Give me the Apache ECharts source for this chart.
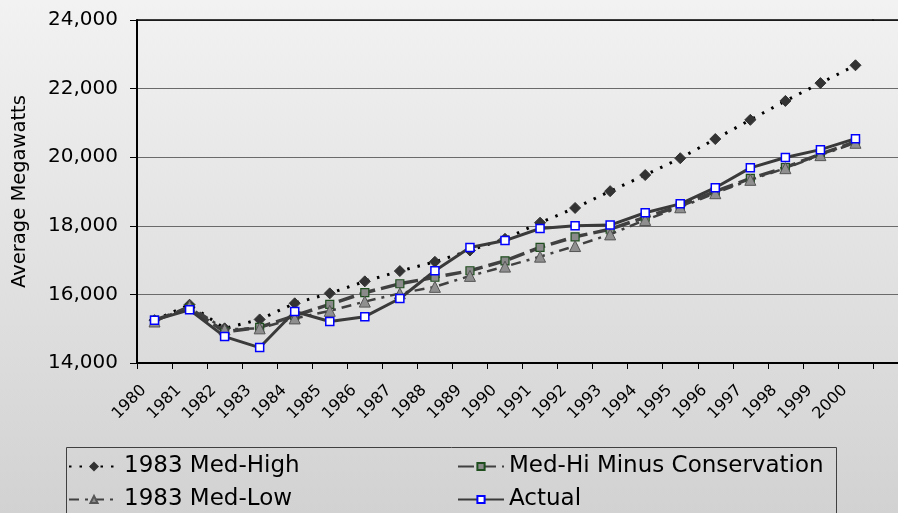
<!DOCTYPE html>
<html>
<head>
<meta charset="utf-8">
<script src="https://cdn.jsdelivr.net/npm/echarts@6/dist/echarts.min.js"></script>
<style>html,body{margin:0;padding:0;}#c{width:898px;height:513px;}</style>
</head>
<body>
<div id="c"></div>
<script>
var years = ['1980','1981','1982','1983','1984','1985','1986','1987','1988','1989','1990','1991','1992','1993','1994','1995','1996','1997','1998','1999','2000'];
var medHigh = [15250, 15700, 15010, 15270, 15740, 16030, 16380, 16680, 16950, 17280, 17620, 18090, 18520, 19010, 19480, 19970, 20530, 21090, 21640, 22160, 22680];
var medHiMinusCons = [15250, 15600, 14910, 15040, 15380, 15710, 16050, 16310, 16500, 16690, 16980, 17370, 17680, 17900, 18250, 18580, 19000, 19380, 19700, 20090, 20450];
var medLow = [15210, 15660, 14980, 15010, 15300, 15520, 15790, 16030, 16220, 16540, 16810, 17100, 17410, 17750, 18170, 18540, 18950, 19340, 19680, 20060, 20420];
var actual = [15250, 15550, 14770, 14450, 15500, 15210, 15350, 15880, 16690, 17370, 17570, 17920, 18000, 18020, 18380, 18640, 19110, 19690, 19990, 20220, 20540];
var yTicks = [14000, 16000, 18000, 20000, 22000, 24000];

var FONT = 'DejaVu Sans';
var chart = echarts.init(document.getElementById('c'));
var gridCol = '#6a6a6a';
chart.setOption({
  animation: false,
  backgroundColor: new echarts.graphic.LinearGradient(0, 0, 0, 1, [
    {offset: 0, color: '#f2f2f2'}, {offset: 1, color: '#d2d2d2'}]),
  textStyle: {fontFamily: FONT},
  grid: [
    {left: 137, right: 25, top: 20, height: 343},
    {left: 873, right: 0, top: 20, height: 343}
  ],
  xAxis: [
    {type: 'category', gridIndex: 0, data: years, boundaryGap: true,
     axisLine: {lineStyle: {color: '#000', width: 2}},
     axisTick: {show: true, length: 6, lineStyle: {color: '#000', width: 1}},
     axisLabel: {rotate: 45, fontSize: 16, color: '#000', margin: 14, fontFamily: FONT, interval: 0,
       formatter: function (v) { return v + '\u00a0\u00a0\u00a0'; }}},
    {type: 'category', gridIndex: 0, position: 'top', data: years,
     axisLine: {lineStyle: {color: '#000', width: 1.5}}, axisTick: {show: false}, axisLabel: {show: false}},
    {type: 'value', gridIndex: 1, min: 0, max: 1,
     axisLine: {show: true, onZero: false, lineStyle: {color: '#000', width: 2}}, axisTick: {show: false}, axisLabel: {show: false}, splitLine: {show: false}},
    {type: 'value', gridIndex: 1, position: 'top', min: 0, max: 1,
     axisLine: {show: true, onZero: false, lineStyle: {color: '#000', width: 1.5}}, axisTick: {show: false}, axisLabel: {show: false}, splitLine: {show: false}}
  ],
  yAxis: [
    {type: 'value', gridIndex: 0, min: yTicks[0], max: yTicks[yTicks.length - 1], interval: 2000,
     name: 'Average Megawatts', nameLocation: 'middle', nameGap: 107,
     nameTextStyle: {fontSize: 19.5, color: '#000', fontFamily: FONT},
     axisLine: {show: true, lineStyle: {color: '#000', width: 2}},
     axisTick: {show: true, length: 7, lineStyle: {color: '#000'}},
     axisLabel: {fontSize: 20, color: '#000', margin: 19, fontFamily: FONT,
       formatter: function (v) { return v.toLocaleString('en-US'); }},
     splitLine: {show: true, lineStyle: {color: gridCol, width: 1}}},
    {type: 'value', gridIndex: 1, min: yTicks[0], max: yTicks[yTicks.length - 1], interval: 2000,
     axisLine: {show: false}, axisTick: {show: false}, axisLabel: {show: false},
     splitLine: {show: true, lineStyle: {color: gridCol, width: 1}}}
  ],
  legend: [
    {left: 68, top: 455, orient: 'vertical', padding: 0, itemGap: 10, itemWidth: 50, itemHeight: 9,
     data: ['1983 Med-High', '1983 Med-Low'],
     textStyle: {fontSize: 23, lineHeight: 23, color: '#000', fontFamily: FONT}},
    {left: 457, top: 455, orient: 'vertical', padding: 0, itemGap: 10, itemWidth: 46, itemHeight: 9,
     data: ['Med-Hi Minus Conservation', 'Actual'],
     textStyle: {fontSize: 23, lineHeight: 23, color: '#000', fontFamily: FONT}}
  ],
  graphic: [
    {type: 'rect', shape: {x: 66.5, y: 447.5, width: 770, height: 80}, silent: true, z: -1,
     style: {fill: null, stroke: '#404040', lineWidth: 1}}
  ],
  series: [
    {name: '1983 Med-High', type: 'line', xAxisIndex: 0, yAxisIndex: 0, data: medHigh,
     symbol: 'diamond', symbolSize: 11, z: 2,
     itemStyle: {color: '#333333', borderColor: '#333333', borderWidth: 1},
     lineStyle: {color: '#000', width: 3, type: [2.5, 8], cap: 'butt'}},
    {name: 'Med-Hi Minus Conservation', type: 'line', xAxisIndex: 0, yAxisIndex: 0, data: medHiMinusCons,
     symbol: 'rect', symbolSize: 8, z: 3,
     itemStyle: {color: '#8a8a8a', borderColor: '#1e4d1e', borderWidth: 1.2},
     lineStyle: {color: '#404040', width: 3.5, type: [16, 6]}},
    {name: '1983 Med-Low', type: 'line', xAxisIndex: 0, yAxisIndex: 0, data: medLow,
     symbol: 'triangle', symbolSize: 11, z: 4,
     itemStyle: {color: '#8f8f8f', borderColor: '#555555', borderWidth: 1},
     lineStyle: {color: '#404040', width: 2.5, type: [10, 6, 3, 6]}},
    {name: 'Actual', type: 'line', xAxisIndex: 0, yAxisIndex: 0, data: actual,
     symbol: 'rect', symbolSize: 8, z: 5,
     itemStyle: {color: '#ffffff', borderColor: '#0000ff', borderWidth: 1.5},
     lineStyle: {color: '#3a3a3a', width: 3}}
  ]
});
</script>
</body>
</html>
